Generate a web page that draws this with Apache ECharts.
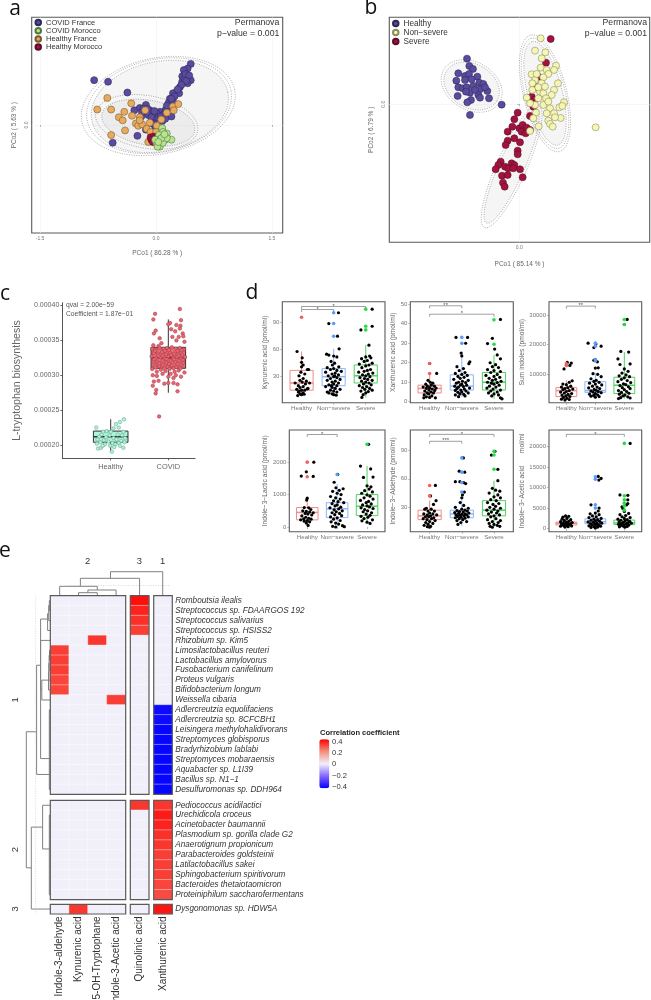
<!DOCTYPE html>
<html><head><meta charset="utf-8">
<script src="https://cdn.jsdelivr.net/npm/echarts@6/dist/echarts.min.js"></script>
<style>html,body{margin:0;padding:0;background:#fff}#c{width:651px;height:1000px}</style>
</head><body><div id="c"></div>
<script>
// ---------- panel a ----------
const aCovidFrance=[[.45,.79],[.41,.73],[.36,.71],[.34,.63],[.40,.62],[.45,.58],[.41,.54],[.34,.56],[.37,.60],[.31,.49],[.27,.43],[.30,.41],[.22,.41],[.18,.34],[.16,.28],[.22,.30],[.12,.19],[.16,.22],[.20,.11],[.05,.17],[.01,.15],[-.03,.13],[-.08,.19],[-.13,.26],[-.21,.22],[-.28,.19],[-.14,.17],[-.10,.13],[-.03,.06],[.03,.09],[.09,.13],[-.19,.11],[-.13,-.06],[-.24,-.14],[-.56,-.23],[-.01,-.02],[-.80,.58],[-.62,.56],[-.37,.42],[-.16,.21],[-.06,.10],[.08,.05],[.38,.66],[.43,.64],[.39,.57],[.33,.52],[.28,.46],[.24,.37],[.20,.34],[.14,.25],[.11,.14],[.06,.11],[-.02,.18],[-.11,.21],[-.18,.16],[-.05,.02],[.12,.08]];
const aCovidMorocco=[[.08,-.04],[.09,-.09],[.14,-.11],[.04,-.13],[.10,-.15],[.20,-.19],[.05,-.19],[.12,-.19],[.01,-.24],[.05,-.28],[.02,-.28],[.09,-.23],[-.01,-.19],[.14,-.17],[.07,-.17],[.03,-.22],[.11,-.12]];
const aHealthyFrance=[[-.63,.35],[-.76,.20],[-.58,.20],[-.41,.17],[-.32,.28],[-.48,.10],[-.43,.06],[-.40,-.07],[-.58,-.13],[-.31,.12],[-.21,.10],[-.14,.19],[-.26,.02],[-.23,-.01],[-.18,.01],[-.08,.03],[-.12,-.05],[.01,-.01],[.07,.07],[.14,.16],[.22,.24],[.29,.27],[.23,.19],[-.07,-.09],[0,-.09],[-.10,-.22],[-.21,.06]];
const aHealthyMorocco=[[-.07,-.16],[-.03,-.15],[-.06,-.19],[-.01,-.17],[-.04,-.22]];
// cx, cy, semi-major, semi-minor, angle (deg), filled
const aEllipses=[[.03,.246,1.01,.62,12,0],[.05,.24,.90,.58,12,1],[.04,.25,.95,.60,12,0],[-.12,.04,.67,.34,-10,0],[-.10,.03,.61,.29,-10,1]];
// ---------- panel b ----------
const bHealthy=[[-157,137],[-150,115],[-139,106],[-183,93],[-163,85],[-151,91],[-126,83],[-189,71],[-143,75],[-120,65],[-108,61],[-163,73],[-183,51],[-170,48],[-158,51],[-138,55],[-118,45],[-96,40],[-148,35],[-185,25],[-123,28],[-91,18],[-118,20],[-145,13],[-156,6],[-53,-1],[-148,-32],[-160,38],[-133,43],[-103,51]];
const bSevere=[[94,196],[80,125],[57,83],[37,23],[44,13],[52,51],[32,-35],[-15,-45],[-5,-25],[-21,-67],[-35,-82],[0,-72],[10,-62],[22,-70],[7,-82],[19,-87],[32,-77],[-15,-102],[-35,-109],[-41,-122],[2,-114],[-5,-139],[-5,-150],[-56,-172],[-63,-182],[-71,-195],[-43,-187],[-23,-177],[-15,-182],[-33,-192],[-18,-192],[2,-195],[-52,-214],[-35,-212],[10,-219],[-49,-235],[-44,-247],[42,-7]];
const bNonSevere=[[64,198],[47,161],[78,156],[67,138],[64,110],[110,116],[104,103],[82,103],[87,91],[37,90],[72,81],[47,73],[39,63],[65,55],[116,63],[104,43],[39,43],[62,38],[72,33],[97,28],[22,20],[57,18],[80,18],[47,-2],[32,3],[72,-2],[87,8],[92,-12],[134,6],[120,-9],[129,-5],[50,-25],[82,-27],[104,-27],[124,-41],[107,-39],[42,-42],[87,-49],[92,-59],[100,-67],[58,-66],[32,-80],[229,-69],[67,63],[57,51],[77,53],[52,91]];
const bEllipses=[[-143,55,97,72,-30,0],[-143,55,88,66,-30,1],[-23,-187,200,45,66,0],[-23,-187,185,38,66,1],[77,33,180,65,104,0],[77,33,170,60,104,0],[77,33,160,52,104,1]];
// ---------- panel c (values x 1e-5) ----------
const cCategories=['Healthy','COVID'];
const cBoxes=[[1,19,20.4,21.2,22,23.7],[2,27.5,31,32.5,34,38]];
const cHealthyPts=[[.75,22.5],[1.23,23.7],[1.16,23.3],[1.09,23],[1.14,22.5],[1.05,22.4],[.87,21.9],[.93,22],[1.0,21.9],[1.22,21.9],[.84,21.5],[.98,21.4],[1.12,21.5],[1.2,21.4],[.8,21.2],[.92,21.1],[1.05,21],[1.25,21],[.77,20.8],[.88,20.7],[1.1,20.8],[1.18,20.6],[.96,20.5],[.82,20.4],[1.03,20.3],[1.14,20.3],[.76,20.2],[.9,20.1],[1.08,20.1],[1.24,20.4],[.99,19.9],[1.06,19.7],[.83,19.6],[1.22,19.6],[.78,19.5],[1.02,19.05],[.86,19.9],[1.16,19.9]];
const cCovidPts=[[2.2,39.5],[1.77,38.8],[1.74,38],[2.22,37.9],[2.03,37.5],[2,37.3],[2.14,37.2],[2.21,37.1],[2.2,36.7],[2.12,36.3],[2.25,36],[1.78,36.4],[1.75,36],[1.88,34.6],[1.74,34.3],[1.83,34.2],[2.07,35.5],[2.18,35.5],[2.28,34.8],[2.14,35],[1.73,30],[1.8,29.9],[1.75,29.1],[1.83,29.2],[1.73,28.5],[1.79,27.9],[1.78,27.4],[1.93,28.8],[2,28.9],[2.09,28.9],[2.16,28.7],[2.16,27.7],[2.22,29.8],[1.84,24.1],[2.09,29.6],[2,29.8],
[1.72,33.8],[1.78,33.7],[1.85,33.9],[1.92,33.8],[1.98,33.9],[2.06,34],[2.13,33.8],[2.2,33.9],[2.27,33.7],[1.75,33.2],[1.82,33.1],[1.89,33.3],[1.96,33],[2.03,33.2],[2.1,33.1],[2.17,33.2],[2.24,33],[1.71,32.7],[1.79,32.5],[1.86,32.6],[1.93,32.4],[2,32.7],[2.08,32.5],[2.15,32.6],[2.22,32.4],[2.29,32.6],[1.74,32],[1.81,31.9],[1.9,32.1],[1.97,31.8],[2.04,32],[2.12,31.9],[2.19,32.1],[2.26,31.8],[1.76,31.4],[1.84,31.3],[1.91,31.5],[1.99,31.2],[2.06,31.4],[2.14,31.2],[2.23,31.4],[1.72,30.9],[1.87,30.8],[1.95,30.6],[2.02,30.9],[2.11,30.5],[2.18,30.7],[2.28,30.4],[1.8,30.5],[2.04,30.2],
[1.77,33.5],[1.94,33.5],[2.01,33.6],[2.16,33.5],[2.23,33.6],[1.83,32.8],[1.9,32.8],[2.05,32.9],[2.18,32.8],[1.76,32.3],[1.97,32.3],[2.1,32.3],[2.25,32.2],[1.84,31.7],[2.01,31.6],[2.16,31.6],[1.93,31],[2.09,31],[2.21,31],[1.78,31.1],[1.85,35.3],[2.05,36.6],[1.9,30.2],[2.13,30],[2.26,35.6]];
// ---------- panel d ----------
const dGroups=['Healthy','Non\u2212severe','Severe'];
const dColors=['#ee8c8c','#8fb6f5','#52d063'];
const dOutColors=['#f26060','#5c9cf6','#2ed84c'];
const kynBox=[[1,9,15,23,37,58],[2,9,20,30,39,61],[3,7,23,31,43,65]];
const xanBox=[[1,2,4.5,6.8,8.5,14],[2,2.5,6,8,13.8,25],[3,1.5,6,10,15,24]];
const sumBox=[[1,1200,2500,4500,5500,8000],[2,2200,3900,4500,7500,10500],[3,1800,3500,6300,9000,17500]];
const lacBox=[[1,50,220,450,600,900],[2,0,290,560,750,1320],[3,100,350,640,1000,1880]];
const aldBox=[[1,9,17,21,27,37],[2,10,19,23,27,38],[3,9,21,27,37,58]];
const aceBox=[[1,300,900,1300,1600,3000],[2,200,1200,1700,2400,4200],[3,300,1000,1400,2100,3500]];
const kynOut=[[1,96],[2,101],[2,89],[2,75],[3,105],[3,86],[3,82]];
const xanOut=[[1,14.5],[1,19.6],[2,30],[2,33],[3,29.5],[3,42]];
const sumOut=[[1,13500],[1,13000],[2,14500],[2,15000],[2,19500],[2,20500],[3,26800],[3,28500]];
const lacOut=[[1,1550],[1,2000],[2,1620],[3,2550]];
const aldOut=[[1,42],[1,53],[2,46],[2,56],[2,67],[2,82],[3,70],[3,85],[3,89]];
const aceOut=[[2,5000],[2,5800],[2,12000],[2,12600],[3,4500],[3,5500],[3,6200],[3,7000],[3,8000],[3,20700]];
const kynPts=[[.86,58],[1.02,51],[1,46],[1.05,43],[1,41],[1.18,38],[1.22,38],[.98,35],[1.1,33],[.92,31],[1.05,28],[.95,26],[1.15,25],[1.02,24],[.8,23],[1.25,23],[1.12,22],[.9,20],[1.05,19],[.95,18],[1.2,17],[.85,16],[1,15],[1.1,15],[.9,13],[1.05,12],[.95,11],[1,10],[1.08,10.5],[.88,9],[.93,14],[1.18,16.5],
[2.15,101],[1.85,89],[2.12,75],[2.17,61],[1.78,55],[1.85,54],[2,53],[2.1,52],[1.92,47],[2.03,45],[1.96,43],[2.16,41],[1.8,40],[2,39],[1.9,38],[2.1,37],[2.24,36],[1.75,35],[2.05,34],[1.95,33],[2.15,32],[1.83,31],[2,30],[2.1,29],[1.9,28],[2.2,27],[1.8,26],[2.05,25],[1.95,24],[2.15,23],[2,22],[1.85,21],[2.1,20],[1.75,19],[1.95,18],[2.05,17],[2.2,16],[1.9,15],[2,14],[1.8,13],[2.1,13],[1.85,12],[1.95,11],[2,10],[2.08,9.5],[1.93,20],[2.03,31],
[3.2,105],[2.85,82],[3.2,86],[3.1,65],[3,52],[3.12,53],[3.16,51],[2.87,50],[3.05,48],[2.95,47],[3.2,45],[2.8,44],[3.1,43],[3,42],[2.88,40],[3.15,38],[3.05,37],[2.95,36],[2.78,35],[3.22,34],[3.08,33],[2.9,32],[3,31],[3.13,30],[2.82,29],[2.96,28],[3.06,27],[3.2,26],[2.87,25],[3,24],[3.1,23],[2.93,22],[3.17,21],[2.8,20],[3.03,19],[2.9,18],[3.12,17],[2.97,16],[3.2,15],[2.85,14],[3.08,13.5],[3,12],[2.92,10],[2.88,7]];
const xanPts=[[1,19.6],[1.22,14.5],[.95,11],[1.02,10],[1.1,9.5],[.88,9],[1.05,8.5],[.93,8],[1.15,8],[.8,7.5],[1,7.2],[1.2,7],[.9,6.8],[1.08,6.5],[.98,6],[1.16,5.8],[.85,5.5],[1.04,5],[.92,4.5],[1.12,4.5],[.97,4],[.83,3.5],[1.07,3],[.9,2.5],[1.18,2],[.82,2],[1,2.2],
[1.82,33],[2.18,33],[2.12,30],[1.98,25],[2,23.5],[2.25,20.5],[2.22,19.5],[1.85,18],[2.05,17],[1.92,16],[2.1,15],[1.8,14.5],[2,14],[2.17,13.5],[1.88,13],[2.07,12.5],[1.95,12],[1.75,11.5],[2.2,11],[2.02,10.5],[1.9,10],[2.12,9.8],[1.83,9.5],[2,9],[1.96,8.6],[2.15,8.5],[1.78,8],[2.05,7.8],[1.9,7.5],[2.24,7],[1.85,6.8],[2.08,6.5],[1.97,6],[1.8,5.8],[2.13,5.5],[2,5],[1.88,4.8],[2.2,4.5],[1.94,4],[2.06,3.8],[1.8,3.5],[2.1,3],[1.9,2.6],
[3.2,42.2],[2.95,32.5],[2.8,29.8],[3.02,27],[3.1,24],[3.2,22],[2.88,20],[3.05,19],[2.95,18],[3.14,17.5],[2.8,16.5],[3,16],[3.2,15.5],[2.9,15],[3.1,14],[2.75,13.5],[3,13],[3.18,12.5],[2.85,12],[3.05,11.5],[2.95,11],[3.22,10.5],[2.8,10],[3.1,9.8],[2.92,9.5],[3,9],[3.16,8.5],[2.86,8],[3.06,7.5],[2.78,7],[2.97,6.5],[3.2,6],[2.9,5.5],[3.1,5],[2.83,4.5],[3,4],[3.14,3.5],[2.93,3],[3.2,2],[3.25,1.5]];
const sumPts=[[1.03,14000],[1.17,13800],[1.12,13000],[.92,11800],[1.2,7800],[1.1,7300],[.88,6700],[1,6500],[1.15,6000],[.83,5700],[1.05,5500],[.95,5200],[1.22,5000],[.88,4800],[1.1,4500],[1,4200],[.8,4000],[.93,3700],[1.18,3500],[1.06,3200],[.85,3000],[.98,2700],[1.12,2500],[.9,2200],[1.02,1900],[.83,1600],[1.1,1500],[.95,1300],
[1.75,20500],[2.2,19500],[2.02,20200],[1.95,19000],[2,15000],[2.07,14200],[1.95,14700],[2.1,12200],[2,12100],[1.92,10200],[2.08,10000],[2.2,9200],[1.85,8500],[2.03,8000],[1.95,7600],[2.13,7300],[1.8,7000],[2,6700],[2.22,6400],[1.9,6000],[2.06,5700],[1.77,5400],[2.15,5200],[1.96,4900],[2.03,4600],[1.85,4400],[2.1,4200],[1.92,4000],[2.2,3800],[2,3500],[1.8,3300],[2.08,3100],[1.94,2900],[1.85,2600],[2.13,2500],[2,2300],
[3.1,28500],[3,26800],[2.88,17700],[3.15,17500],[2.78,15200],[2.85,13300],[3.2,13500],[3,11800],[3.13,11000],[2.92,10400],[3.06,9800],[2.82,9500],[3.18,9200],[3,8800],[2.9,8300],[3.1,7900],[2.78,7500],[3.22,7200],[2.97,6800],[3.05,6500],[2.85,6200],[3.14,5800],[2.93,5500],[3.2,5200],[3,4800],[2.8,4500],[3.08,4200],[2.9,3900],[3.16,3600],[2.83,3300],[3.02,3000],[2.95,2700],[3.12,2400],[2.87,2100],[3.2,2000],[2.8,1800]];
const lacPts=[[1.22,2000],[.8,1570],[.97,1700],[1.2,1560],[1,890],[.98,830],[.9,600],[1.05,590],[1.12,540],[.85,500],[.97,480],[1.08,460],[1.2,440],[.93,420],[1.02,400],[1.15,370],[.82,340],[.95,300],[1.05,270],[.88,250],[1.13,240],[.78,220],[1,200],[.9,180],[1.08,160],[.97,120],[1.03,50],
[2.02,1620],[1.9,1380],[1.96,1210],[2.2,1180],[2.07,1130],[1.85,1100],[2,1040],[2.13,1000],[1.78,940],[1.95,900],[2.1,860],[1.88,810],[2.03,780],[2.22,750],[1.83,720],[2,680],[1.93,650],[2.12,610],[1.76,590],[2.05,560],[1.9,530],[2.17,500],[1.97,470],[1.83,440],[2.08,420],[1.92,380],[2.15,350],[1.78,310],[2,280],[1.88,240],[2.1,200],[1.8,160],[1.95,120],[2.05,90],[2.18,40],[1.85,20],[2.24,10],[1.95,0],
[3.05,2550],[2.78,1880],[3.12,1790],[2.88,1530],[3.2,1540],[3,1270],[3.13,1240],[3.07,1170],[2.92,1120],[3.18,1080],[2.82,1040],[3,990],[3.1,950],[2.9,900],[3.2,860],[2.78,820],[3.05,790],[2.97,750],[3.14,710],[2.85,680],[3,650],[3.08,620],[2.8,590],[3.2,570],[2.92,540],[3.02,500],[2.87,470],[3.15,440],[2.97,400],[3.1,360],[2.8,330],[3.03,300],[2.9,260],[3.18,220],[2.83,190],[3,150],[3.1,110]];
const aldPts=[[1.18,53],[1.03,42],[1.2,37],[1.12,33],[.9,29],[.85,28],[1.05,28],[.95,26],[1.15,26],[1,24],[.82,23],[1.1,23],[.93,22],[1.22,22],[1.03,21],[.87,20],[.97,20],[1.13,19],[.8,18],[1.06,18],[.92,17],[1.17,16],[1,15],[.88,14],[1.1,13],[.95,12],[.83,11],[1.03,10],[.93,9.5],[1,9],
[1.92,68],[2.05,82],[2.09,67],[1.8,57],[1.94,57],[2.06,56],[2.12,55],[2.08,46],[2.02,43],[2,40],[1.95,35],[2.06,32],[1.8,30],[2.2,29],[2,28],[2.1,27],[1.85,26.5],[2.17,26],[1.93,25.5],[2.04,25],[1.78,24.5],[2.22,24],[1.9,23.5],[2.1,23],[2,22.5],[1.82,22],[2.15,22],[1.95,21.5],[2.07,21],[1.87,20.5],[2.2,20],[1.98,19.5],[1.8,19],[2.1,18.5],[1.92,18],[2.03,17],[1.85,16],[2.15,15],[1.97,14],[1.88,12],
[3.03,89],[2.92,85],[3.12,70],[3.12,58],[2.95,50],[3.05,48],[3.18,47],[2.85,45],[3.12,43],[3,41],[3.2,40],[2.9,38],[3.07,37],[2.8,35],[3.15,34],[2.97,33],[3.05,31],[2.87,30],[3.2,29],[3,28],[2.78,27],[3.12,26],[2.92,25],[3.08,24],[2.83,23],[3.17,22],[3,21],[2.9,20],[3.06,18],[2.8,17],[3.2,16],[2.95,15],[3.13,14],[2.85,13],[3,12],[3.1,11],[2.88,10],[3.18,10],[2.95,9]];
const acePts=[[.97,3100],[1.08,3000],[.88,2800],[1.02,2500],[.85,2300],[1.15,2200],[.93,2000],[1.08,1800],[.8,1700],[1,1600],[1.2,1500],[.9,1400],[1.05,1300],[.83,1200],[1.15,1200],[.97,1100],[1.1,1000],[.87,900],[1.02,800],[.92,700],[1.18,650],[.8,600],[1.06,500],[.95,400],
[2.1,12700],[2.2,12200],[2.12,11800],[1.85,5800],[2.13,5000],[2.1,4300],[2,3800],[1.82,3600],[2.13,3400],[1.9,3100],[2.03,2900],[1.78,2700],[2.2,2500],[1.95,2300],[2.08,2200],[1.85,2050],[2,1900],[2.15,1800],[1.75,1650],[1.93,1550],[2.05,1450],[2.22,1350],[1.83,1250],[1.98,1100],[2.12,1000],[1.88,900],[2.05,800],[1.78,700],[2.18,600],[1.95,500],[2.08,400],[1.85,300],[2,200],
[3.2,20700],[2.85,8200],[3.12,8100],[3.12,7000],[3.12,6100],[3.08,5800],[2.92,5300],[2.95,4900],[3,4200],[3.15,3700],[2.85,3400],[3.05,3200],[2.92,2900],[3.2,2700],[3,2500],[2.78,2300],[3.1,2200],[2.88,2050],[3.03,1900],[3.18,1800],[2.82,1650],[2.96,1550],[3.12,1450],[3.24,1350],[2.9,1250],[3.06,1150],[2.8,1050],[3,950],[3.15,850],[2.87,750],[2.95,650],[3.1,550],[2.83,450],[3.02,350]];
// bracket: from group, to group, value level, stars
const kynSig=[[1,3,108,'*'],[1,2,104.6,'*']];
const xanSig=[[1,2,49.2,'**'],[1,3,44.9,'*']];
const sumSig=[[1,2,33000,'**']];
const lacSig=[[1,2,2852,'*']];
const aldSig=[[1,3,106.8,'*'],[1,2,99.5,'***']];
const aceSig=[[1,3,22900,'*']];
// ---------- panel e ----------
const heatCols=['Indole-3-aldehyde','Kynurenic acid','5-OH-Tryptophane','Indole-3-Acetic acid'];
const quinCols=['Quinolinic acid'];
const xanCols=['Xanthurenic acid'];
const rows1=['Romboutsia ilealis','Streptococcus sp. FDAARGOS 192','Streptococcus salivarius','Streptococcus sp. HSISS2','Rhizobium sp. Kim5','Limosilactobacillus reuteri','Lactobacillus amylovorus','Fusobacterium canifelinum','Proteus vulgaris','Bifidobacterium longum','Weissella cibaria','Adlercreutzia equolifaciens','Adlercreutzia sp. 8CFCBH1','Leisingera methylohalidivorans','Streptomyces globisporus','Bradyrhizobium lablabi','Streptomyces mobaraensis','Aquabacter sp. L1I39','Bacillus sp. N1\u22121','Desulfuromonas sp. DDH964'];
const rows2=['Pediococcus acidilactici','Urechidicola croceus','Acinetobacter baumannii','Plasmodium sp. gorilla clade G2','Anaerotignum propionicum','Parabacteroides goldsteinii','Latilactobacillus sakei','Sphingobacterium spiritivorum','Bacteroides thetaiotaomicron','Proteiniphilum saccharofermentans'];
const rows3=['Dysgonomonas sp. HDW5A'];
const corr1=[[0,0,0,0,.40,0],[0,0,0,0,.37,0],[0,0,0,0,.35,0],[0,0,0,0,.33,0],[0,0,.34,0,0,0],[.33,0,0,0,0,0],[.33,0,0,0,0,0],[.33,0,0,0,0,0],[.32,0,0,0,0,0],[.32,0,0,0,0,0],[0,0,0,.33,0,0],[0,0,0,0,0,-.4],[0,0,0,0,0,-.4],[0,0,0,0,0,-.41],[0,0,0,0,0,-.41],[0,0,0,0,0,-.41],[0,0,0,0,0,-.41],[0,0,0,0,0,-.41],[0,0,0,0,0,-.41],[0,0,0,0,0,-.41]];
const corr2=[[0,0,0,0,.34,.34],[0,0,0,0,0,.38],[0,0,0,0,0,.37],[0,0,0,0,0,.35],[0,0,0,0,0,.34],[0,0,0,0,0,.33],[0,0,0,0,0,.33],[0,0,0,0,0,.33],[0,0,0,0,0,.32],[0,0,0,0,0,.31]];
const corr3=[[0,.34,0,0,0,.39]];
// merge: height A, position A, height B, position B, merge height
const rowMerges=[[0,.5,0,1.5,1],[1,1,0,2.5,1.6],[1.6,1.8,0,3.5,2.7],[0,5.5,0,6.5,.8],[.8,6,0,7.5,1.2],[1.2,6.8,0,8.5,1.5],[1.5,7.6,0,9.5,1.8],[1.8,8.5,0,10.5,8.5],[0,4.5,8.5,9.5,9.7],[2.7,2.35,1,16.4,9.7],[0,11.5,0,19.5,1],[9.7,7,1,18,13.7],[0,21.1,1,25.5,7.7],[0,22.1,0,30.1,1],[7.7,23.3,0,31.55,19],[13.7,13.7,19,27.4,24]];
const colMerges=[[0,1.5,0,2.5,3],[3,2,0,3.5,5.7],[0,.5,5.7,2.5,9.4],[9.4,1.6,0,4.75,17.4],[17.4,3.2,0,5.98,24]];
const rowCut=14.6, colCut=10.2;

// ---------- builders ----------
const FONT='"Liberation Sans",Arial,sans-serif';
const grid=[],xAxis=[],yAxis=[],series=[],heatIdx=[];
const hide={show:false};
function addGrid(g,x,y){const i=grid.length;grid.push(g);xAxis.push(Object.assign({gridIndex:i},x));yAxis.push(Object.assign({gridIndex:i},y));return i;}
function rect(l,t,r,b,extra){return Object.assign({left:l,top:t,width:r-l,height:b-t,containLabel:false,outerBoundsMode:'none'},extra||{});}
const frame={show:true,borderColor:'#5a5a5a',borderWidth:1.1,backgroundColor:'#fff'};
function valAxis(min,max,ticks,fmt,extra){return Object.assign({type:'value',min,max,scale:true,
  axisLine:{show:false},splitLine:hide,minorSplitLine:hide,
  axisTick:{show:true,length:2,lineStyle:{color:'#888',width:.6},customValues:ticks},
  axisLabel:{show:true,customValues:ticks,formatter:fmt,fontFamily:FONT,fontSize:6,color:'#777',margin:3,hideOverlap:false}},extra||{});}
function ellipseSeries(i,data){return {type:'custom',xAxisIndex:i,yAxisIndex:i,silent:true,clip:false,z:1,data,
  renderItem(p,api){const cx=api.value(0),cy=api.value(1),a=api.value(2),b=api.value(3),th=api.value(4)*Math.PI/180,f=api.value(5);
    const pts=[];for(let k=0;k<90;k++){const t=k/90*2*Math.PI;pts.push(api.coord([cx+a*Math.cos(t)*Math.cos(th)-b*Math.sin(t)*Math.sin(th),cy+a*Math.cos(t)*Math.sin(th)+b*Math.sin(t)*Math.cos(th)]));}
    return {type:'polygon',shape:{points:pts},style:{fill:f?'rgba(190,190,190,0.16)':'none',stroke:'#8a8a8a',lineWidth:.7,lineDash:[1,1.4]}};}};}
function pts(i,name,data,color,border,size,z){return {type:'scatter',name,xAxisIndex:i,yAxisIndex:i,data,symbolSize:size,silent:true,z:z||3,animation:false,
  itemStyle:{color,borderColor:border,borderWidth:border==='none'?0:.6,opacity:1}};}
function boxSeries(i,data,width,strokes,fills,lw){return {type:'custom',xAxisIndex:i,yAxisIndex:i,silent:true,z:2,data,
  renderItem(p,api){const x=api.value(0),lo=api.value(1),q1=api.value(2),m=api.value(3),q3=api.value(4),hi=api.value(5),c=strokes[p.dataIndex],f=fills?fills[p.dataIndex]:'none',w=width/2;
    const P=(a,b)=>api.coord([a,b]);const st={stroke:c,lineWidth:lw,fill:'none'};
    const ln=(A,B,s)=>({type:'line',shape:{x1:A[0],y1:A[1],x2:B[0],y2:B[1]},style:Object.assign({},st,s||{})});
    const tl=P(x-w,q3),br=P(x+w,q1);
    return {type:'group',children:[ln(P(x,q3),P(x,hi)),ln(P(x,q1),P(x,lo)),
      {type:'rect',shape:{x:tl[0],y:tl[1],width:br[0]-tl[0],height:br[1]-tl[1]},style:{stroke:c,lineWidth:lw,fill:f}},
      ln(P(x-w,m),P(x+w,m),{lineWidth:lw*1.5})]};}};}
function sigSeries(i,data,span){return {type:'custom',xAxisIndex:i,yAxisIndex:i,silent:true,z:5,clip:false,data:data.map(r=>({value:r.slice(0,3),label:r[3]})),
  renderItem(p,api){const a=api.coord([api.value(0),api.value(2)]),b=api.coord([api.value(1),api.value(2)]);
    return {type:'group',children:[{type:'polyline',shape:{points:[[a[0],a[1]+2.5],a,b,[b[0],b[1]+2.5]]},style:{stroke:'#777',lineWidth:.7,fill:'none'}},
      {type:'text',x:(a[0]+b[0])/2,y:a[1]-.5,style:{text:data[p.dataIndex][3],fontSize:6,fill:'#555',align:'center',verticalAlign:'middle',fontFamily:FONT}}]};}};}
function mergeSeries(i,data,horizontal){return {type:'custom',xAxisIndex:i,yAxisIndex:i,silent:true,clip:false,data,
  renderItem(p,api){const P=(h,q)=>api.coord(horizontal?[h,q]:[q,h]);const hA=api.value(0),a=api.value(1),hB=api.value(2),b=api.value(3),m=api.value(4);
    return {type:'polyline',shape:{points:[P(hA,a),P(m,a),P(m,b),P(hB,b)]},style:{stroke:'#808080',lineWidth:1,fill:'none'}};}};}
function frameSeries(i){return {type:'custom',xAxisIndex:i,yAxisIndex:i,silent:true,clip:false,z:4,data:[[0,0]],
  renderItem(p){const c=p.coordSys;return {type:'rect',shape:{x:c.x,y:c.y,width:c.width,height:c.height},style:{fill:'none',stroke:'#5a5a5a',lineWidth:1.2}};}};}

// panel a
const ia=addGrid(rect(31.7,17.3,282.7,233,frame),
  valAxis(-1.608,1.64,[-1.5,0,1.5],v=>v.toFixed(1),{name:'PCo1 ( 86.28 % )',nameLocation:'middle',nameGap:17,nameTextStyle:{fontFamily:FONT,fontSize:6.5,color:'#666'},splitLine:{show:true,lineStyle:{color:'#f2f2f2',width:.6}}}),
  valAxis(-1.397,1.393,[0],v=>v.toFixed(1),{name:'PCo2 ( 5.63 % )',nameLocation:'middle',nameGap:14,nameTextStyle:{fontFamily:FONT,fontSize:6.5,color:'#666'},splitLine:{show:true,lineStyle:{color:'#f2f2f2',width:.6}}}));
yAxis[ia].axisLabel.rotate=90;yAxis[ia].axisLabel.fontSize=5;xAxis[ia].axisLabel.fontSize=5;
series.push(ellipseSeries(ia,aEllipses));
series.push(pts(ia,'COVID France',aCovidFrance,'#5b4ba0','#2e2a55',7,3));
series.push(pts(ia,'Healthy France',aHealthyFrance,'#e8ab5e','#7a5a30',7,4));
series.push(pts(ia,'Healthy Morocco',aHealthyMorocco,'#a3123f','#5a1028',7,5));
series.push(pts(ia,'COVID Morocco',aCovidMorocco,'#b9e391','#4d7a3c',7,6));
// panel b
const ib=addGrid(rect(389.3,17.3,649.7,242.3,frame),
  valAxis(-390,391,[0],v=>v.toFixed(1),{name:'PCo1 ( 85.14 % )',nameLocation:'middle',nameGap:18,nameTextStyle:{fontFamily:FONT,fontSize:6.5,color:'#666'},splitLine:{show:true,lineStyle:{color:'#f2f2f2',width:.6}}}),
  valAxis(-414,261,[0],v=>v.toFixed(1),{name:'PCo2 ( 6.79 % )',nameLocation:'middle',nameGap:15,nameTextStyle:{fontFamily:FONT,fontSize:6.5,color:'#666'},splitLine:{show:true,lineStyle:{color:'#f2f2f2',width:.6}}}));
yAxis[ib].axisLabel.rotate=90;yAxis[ib].axisLabel.fontSize=5;xAxis[ib].axisLabel.fontSize=5;
series.push(ellipseSeries(ib,bEllipses));
series.push(pts(ib,'Healthy',bHealthy,'#5b4ba0','#2e2a55',7,3));
series.push(pts(ib,'Severe',bSevere,'#a3123f','#5a1028',7,4));
series.push(pts(ib,'Non\u2212severe',bNonSevere,'#f6f6b4','#8d8d60',7,5));
// panel c
const cAxisLine={show:true,onZero:false,lineStyle:{color:'#555',width:1}};
const ic=addGrid(rect(62.3,302.7,195,458.3),
  valAxis(.16,2.463,[1,2],v=>cCategories[v-1],{axisLine:cAxisLine}),
  valAxis(18.1,40.4,[20,25,30,35,40],v=>(v/1e5).toFixed(5),{axisLine:cAxisLine,name:'L-tryptophan biosynthesis',nameLocation:'middle',nameGap:40,nameTextStyle:{fontFamily:FONT,fontSize:10.6,color:'#666'}}));
Object.assign(xAxis[ic].axisLabel,{fontSize:7.4,margin:5,color:'#666'});
Object.assign(yAxis[ic].axisLabel,{fontSize:7,margin:3,color:'#666'});
xAxis[ic].axisTick.lineStyle={color:'#444',width:.8};yAxis[ic].axisTick.lineStyle={color:'#444',width:.8};
series.push(boxSeries(ic,cBoxes,.6,['#333','#333'],['#aef4de','#f06e78'],1));
series.push(pts(ic,'',cHealthyPts,'#b9efdb','#5fae90',3.5,3));
series.push(pts(ic,'',cCovidPts,'#ea6672','#a8404c',3.5,3));
// panel d
const dPanels=[
 {b:[282.3,301.7,385,402.7],y:[1.1,113.3],t:[30,60,90],box:kynBox,out:kynOut,p:kynPts,sig:kynSig,name:'Kynurenic acid (pmol/ml)',gap:14},
 {b:[410.3,301.7,513.3,402.7],y:[-.5,51.3],t:[0,10,20,30,40,50],box:xanBox,out:xanOut,p:xanPts,sig:xanSig,name:'Xanthurenic acid (pmol/ml)',gap:13},
 {b:[549,301.7,641.7,402.7],y:[420,34490],t:[10000,20000,30000],box:sumBox,out:sumOut,p:sumPts,sig:sumSig,name:'Sum indoles (pmol/ml)',gap:23},
 {b:[289.3,430,385,531.7],y:[-145,2991],t:[0,1000,2000],box:lacBox,out:lacOut,p:lacPts,sig:lacSig,name:'Indole\u22123\u2212Lactic acid (pmol/ml)',gap:21},
 {b:[410.3,430,513.3,531.7],y:[4.3,111.4],t:[30,60,90],box:aldBox,out:aldOut,p:aldPts,sig:aldSig,name:'Indole\u22123\u2212Aldehyde (pmol/ml)',gap:13},
 {b:[549,430,641.7,531.7],y:[-728,23956],t:[0,5000,10000,15000,20000],box:aceBox,out:aceOut,p:acePts,sig:aceSig,name:'Indole\u22123\u2212Acetic acid       mol/ml',gap:23}];
dPanels.forEach(d=>{
  const i=addGrid(rect(d.b[0],d.b[1],d.b[2],d.b[3],frame),
    valAxis(.4,3.6,[1,2,3],v=>dGroups[v-1]),
    valAxis(d.y[0],d.y[1],d.t,v=>String(v),{name:d.name,nameLocation:'middle',nameGap:d.gap,nameTextStyle:{fontFamily:FONT,fontSize:6.7,color:'#666',fontWeight:500}}));
  xAxis[i].axisLabel.fontSize=6.2;
  series.push(boxSeries(i,d.box,.72,dColors,null,1));
  series.push(pts(i,'',d.p,'#000','none',3.2,4));
  series.push({type:'scatter',xAxisIndex:i,yAxisIndex:i,silent:true,z:5,symbolSize:3.6,data:d.out,itemStyle:{opacity:1,color:p=>dOutColors[p.value[0]-1]}});
  series.push(sigSeries(i,d.sig));
});
// panel e
const colX=[[50.3,125.7,heatCols,0],[130.3,149,quinCols,4],[153.7,172.3,xanCols,5]];
const rowY=[[595.7,794.3,rows1,corr1],[800.3,899.7,rows2,corr2],[904.3,914,rows3,corr3]];
rowY.forEach((R,ri)=>colX.forEach((C,ci)=>{
  const i=addGrid(rect(C[0],R[0],C[1],R[1]),
   {type:'category',data:C[2],axisLine:hide,axisTick:hide,splitLine:hide,
    axisLabel:ri===2?{show:true,interval:0,rotate:90,fontFamily:FONT,fontSize:10,color:'#333',margin:2.5}:hide},
   {type:'category',data:R[2],inverse:true,axisLine:hide,axisTick:hide,splitLine:hide,position:ci===2?'right':'left',
    axisLabel:ci===2?{show:true,interval:0,fontFamily:FONT,fontStyle:'italic',fontSize:8.2,color:'#333',margin:3}:hide});
  const data=[];R[3].forEach((row,r)=>C[2].forEach((_,c)=>data.push([c,r,row[C[3]+c]])));
  heatIdx.push(series.length);
  series.push({type:'heatmap',xAxisIndex:i,yAxisIndex:i,data,silent:true,z:2,progressive:0,itemStyle:{borderColor:'#fff',borderWidth:.4}});
  series.push(frameSeries(i));
}));
const dr=addGrid({left:24.3,top:595.7,width:26,height:318.3,outerBoundsMode:'none'},{type:'value',min:0,max:26,inverse:true,show:false},{type:'value',min:0,max:32.05,inverse:true,show:false});
series.push(mergeSeries(dr,rowMerges,true));
series.push({type:'line',xAxisIndex:dr,yAxisIndex:dr,silent:true,symbol:'none',data:[[rowCut,0],[rowCut,32.05]],lineStyle:{color:'#c8c8c8',width:.7,type:[1,1.5]}});
const dc=addGrid({left:50.3,top:569.7,width:122,height:26,outerBoundsMode:'none'},{type:'value',min:0,max:6.49,show:false},{type:'value',min:0,max:26,show:false});
series.push(mergeSeries(dc,colMerges,false));
series.push({type:'line',xAxisIndex:dc,yAxisIndex:dc,silent:true,symbol:'none',data:[[.95,colCut],[6.4,colCut]],lineStyle:{color:'#c8c8c8',width:.7,type:[1,1.5]}});

// text
const T=(text,x,y,size,o)=>{o=o||{};return {type:'text',x,y,rotation:o.rot||0,silent:true,z:50,style:{text,fontSize:size,fontFamily:o.font||FONT,fontWeight:o.w||'normal',fill:o.c||'#333',align:o.a||'left',verticalAlign:'middle'}};};
const R90=Math.PI/2,PANEL='"Open Sans",sans-serif';
const graphicText=[
 T('a',15,9,21,{a:'center',font:PANEL,c:'#111'}),T('b',371,8,21,{a:'center',font:PANEL,c:'#111'}),T('c',5,294,21,{a:'center',font:PANEL,c:'#111'}),T('d',252,293,21,{a:'center',font:PANEL,c:'#111'}),T('e',5,551,21,{a:'center',font:PANEL,c:'#111'}),
 T('Permanova',279.3,23,8.7,{a:'right'}),T('p\u2212value = 0.001',279.3,34,8.7,{a:'right'}),
 T('Permanova',647,23,8.7,{a:'right'}),T('p\u2212value = 0.001',647,34,8.7,{a:'right'}),
 T('qval = 2.00e\u221259',66,305,6.7,{c:'#555'}),T('Coefficient = 1.87e\u221201',66,313.7,6.7,{c:'#555'}),
 T('2',87.7,561,9.4,{a:'center'}),T('3',139.3,561,9.4,{a:'center'}),T('1',162.7,561,9.4,{a:'center'}),
 T('1',15.5,700,9.4,{a:'center',rot:R90}),T('2',15.5,849.7,9.4,{a:'center',rot:R90}),T('3',15.5,909,9.4,{a:'center',rot:R90}),
 T('Correlation coefficient',320,733,7.5,{w:'bold',c:'#222'}),
 T('0.4',332,742,7.6),T('0.2',332,753,7.6),T('0',332,764,7.6),T('\u22120.2',332,775.5,7.6),T('\u22120.4',332,786.5,7.6)
];
const leg=(left,top,names,fs,gap)=>({show:true,orient:'vertical',left,top,data:names,icon:'circle',itemWidth:5.5,itemHeight:5.5,itemGap:gap,padding:0,selectedMode:false,textStyle:{fontFamily:FONT,fontSize:fs,color:'#333'}});
const chart=echarts.init(document.getElementById('c'),null,{renderer:'canvas',width:651,height:1000});
chart.setOption({animation:false,backgroundColor:'#fff',grid,xAxis,yAxis,series,
 legend:[leg(34.5,18.5,['COVID France','COVID Morocco','Healthy France','Healthy Morocco'],7.5,0.2),leg(392,19.5,['Healthy','Non\u2212severe','Severe'],8.2,1)],
 visualMap:[{type:'continuous',show:true,calculable:false,seriesIndex:heatIdx,min:-.42,max:.42,left:319.3,top:739.3,itemWidth:10,itemHeight:49,padding:0,text:null,showLabel:false,textStyle:{fontSize:1,color:'transparent'},
   inRange:{color:['#0000ff','#8566ff','#f1f0fa','#f2907c','#ff0000']}}],
 graphic:{elements:graphicText}});
</script></body></html>
